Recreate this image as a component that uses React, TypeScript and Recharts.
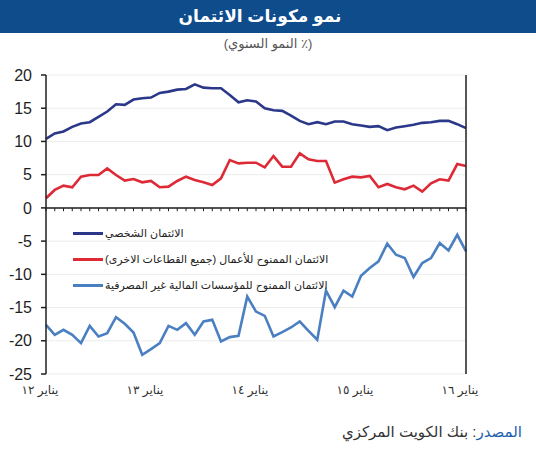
import { LineChart, Line, XAxis, YAxis, CartesianGrid, ReferenceLine, Legend } from 'recharts';

// monthly observations, Jan 2012 - Jan 2016
const months = [
  '2012-01', '2012-02', '2012-03', '2012-04', '2012-05', '2012-06', '2012-07', '2012-08', '2012-09', '2012-10', '2012-11', '2012-12',
  '2013-01', '2013-02', '2013-03', '2013-04', '2013-05', '2013-06', '2013-07', '2013-08', '2013-09', '2013-10', '2013-11', '2013-12',
  '2014-01', '2014-02', '2014-03', '2014-04', '2014-05', '2014-06', '2014-07', '2014-08', '2014-09', '2014-10', '2014-11', '2014-12',
  '2015-01', '2015-02', '2015-03', '2015-04', '2015-05', '2015-06', '2015-07', '2015-08', '2015-09', '2015-10', '2015-11', '2015-12',
  '2016-01',
];

const yearTicks = ['2012-01', '2013-01', '2014-01', '2015-01', '2016-01'];
const yearLabels = ['يناير ١٢', 'يناير ١٣', 'يناير ١٤', 'يناير ١٥', 'يناير ١٦'];

const yTicks = [-25, -20, -15, -10, -5, 0, 5, 10, 15, 20];

const personal = [
  10.4, 11.2, 11.5, 12.2, 12.7, 12.9, 13.7, 14.5, 15.6, 15.5, 16.3, 16.5,
  16.6, 17.3, 17.5, 17.8, 17.9, 18.6, 18.1, 18.0, 18.0, 17.0, 15.9, 16.2,
  16.0, 15.0, 14.7, 14.6, 13.9, 13.1, 12.6, 12.9, 12.6, 13.0, 13.0, 12.6,
  12.4, 12.2, 12.3, 11.7, 12.1, 12.3, 12.5, 12.8, 12.9, 13.1, 13.1, 12.6,
  12.0,
];

const business = [
  1.45, 2.7, 3.35, 3.1, 4.7, 4.95, 4.95, 5.95, 4.95, 4.1, 4.35, 3.85,
  4.05, 3.1, 3.2, 4.05, 4.7, 4.2, 3.85, 3.45, 4.45, 7.2, 6.7, 6.8,
  6.8, 6.1, 7.8, 6.2, 6.2, 8.2, 7.3, 7.05, 7.05, 3.8, 4.3, 4.7,
  4.6, 4.8, 3.1, 3.6, 3.1, 2.8, 3.35, 2.45, 3.7, 4.3, 4.1, 6.6,
  6.3,
];

const nonBank = [
  -17.6, -19.1, -18.35, -19.1, -20.35, -17.75, -19.35, -18.85, -16.45, -17.45, -18.75, -22.1,
  -21.25, -20.35, -17.75, -18.35, -17.35, -19.1, -17.1, -16.85, -20.1, -19.45, -19.25, -13.35,
  -15.6, -16.25, -19.35, -18.7, -18.0, -17.1, -18.5, -19.85, -12.45, -14.95, -12.45, -13.35,
  -10.2, -9.05, -8.05, -5.4, -7.05, -7.55, -10.4, -8.3, -7.55, -5.3, -6.4, -4.05,
  -6.55,
];

const seriesNames = [
  'الائتمان الشخصي',
  'الائتمان الممنوح للأعمال (جميع القطاعات الاخرى)',
  'الائتمان الممنوح للمؤسسات المالية غير المصرفية',
];

const data = months.map((month, i) => ({
  month,
  personal: personal[i],
  business: business[i],
  nonBank: nonBank[i],
}));

const FONT = "Arial, 'Liberation Sans', 'DejaVu Sans', sans-serif";
const AXIS = '#1f1f1f';

function SeriesKey({ payload }: any) {
  return (
    <div style={{ display: 'flex', flexDirection: 'column', gap: 10 }}>
      {(payload ?? []).map((entry: any) => (
        <div key={entry.value} style={{ display: 'flex', alignItems: 'center', height: 16 }}>
          <span style={{ display: 'inline-block', width: 30, height: 3, background: entry.color, marginRight: 2 }} />
          <span dir="rtl" style={{ fontSize: 11, color: '#222', whiteSpace: 'nowrap' }}>
            {entry.value}
          </span>
        </div>
      ))}
    </div>
  );
}

export default function App() {
  return (
    <div
      style={{
        position: 'absolute',
        left: 0,
        top: 0,
        width: 536,
        height: 450,
        background: '#fff',
        fontFamily: FONT,
        overflow: 'hidden',
      }}
    >
      <LineChart
        width={536}
        height={450}
        data={data}
        margin={{ top: 75, right: 0, bottom: 46, left: 0 }}
        style={{ position: 'absolute', left: 0, top: 0 }}
      >
        <CartesianGrid vertical={false} stroke="#ececec" />
        <XAxis
          dataKey="month"
          ticks={yearTicks}
          interval={0}
          tickFormatter={(m: string) => yearLabels[yearTicks.indexOf(m)] ?? ''}
          axisLine={false}
          tickLine={false}
          height={30}
          tickMargin={5}
          tick={{ fill: '#333', fontSize: 12, dx: -6 }}
        />
        <YAxis
          domain={[-25, 20]}
          ticks={yTicks}
          interval={0}
          width={46}
          tickSize={5}
          tickMargin={9}
          axisLine={{ stroke: AXIS, strokeWidth: 1.5 }}
          tickLine={{ stroke: AXIS, strokeWidth: 1.5 }}
          tick={{ fill: AXIS, fontSize: 16 }}
        />
        <YAxis
          yAxisId="right"
          orientation="right"
          domain={[-25, 20]}
          ticks={yTicks}
          interval={0}
          width={70}
          tickSize={5}
          tickMargin={8}
          axisLine={{ stroke: AXIS, strokeWidth: 1.5 }}
          tickLine={{ stroke: AXIS, strokeWidth: 1.5 }}
          tick={{ fill: AXIS, fontSize: 16, textAnchor: 'start' }}
        />
        <ReferenceLine y={0} stroke={AXIS} strokeWidth={1.5} />
        {months.map((m) => (
          <ReferenceLine
            key={m}
            segment={[{ x: m, y: 0 }, { x: m, y: -0.5 }]}
            stroke={AXIS}
            strokeWidth={1}
          />
        ))}
        <Line
          type="linear"
          dataKey="personal"
          name={seriesNames[0]}
          stroke="#2b3889"
          strokeWidth={2.6}
          dot={false}
          isAnimationActive={false}
        />
        <Line
          type="linear"
          dataKey="business"
          name={seriesNames[1]}
          stroke="#dd2a36"
          strokeWidth={2.6}
          dot={false}
          isAnimationActive={false}
        />
        <Line
          type="linear"
          dataKey="nonBank"
          name={seriesNames[2]}
          stroke="#4a7fc1"
          strokeWidth={2.6}
          dot={false}
          isAnimationActive={false}
        />
        <Legend
          layout="vertical"
          align="center"
          verticalAlign="middle"
          content={<SeriesKey />}
          wrapperStyle={{ left: 73, top: 225, width: 300 }}
        />
      </LineChart>

      <div
        style={{
          position: 'absolute',
          left: 0,
          top: 0,
          width: 536,
          height: 33,
          background: '#0f4c8c',
          color: '#fff',
          fontWeight: 'bold',
          fontSize: 17,
          lineHeight: '33px',
          textAlign: 'center',
          boxSizing: 'border-box',
          paddingRight: 16,
        }}
        dir="rtl"
      >
        نمو مكونات الائتمان
      </div>
      <div
        dir="rtl"
        style={{
          position: 'absolute',
          left: 0,
          top: 36,
          width: 536,
          textAlign: 'center',
          fontSize: 13,
          color: '#555',
        }}
      >
        (٪ النمو السنوي)
      </div>
      <div
        dir="rtl"
        style={{
          position: 'absolute',
          right: 14,
          top: 423,
          fontSize: 15,
          color: '#333',
          whiteSpace: 'nowrap',
        }}
      >
        <span style={{ color: '#2160ad' }}>المصدر</span>: بنك الكويت المركزي
      </div>
    </div>
  );
}
